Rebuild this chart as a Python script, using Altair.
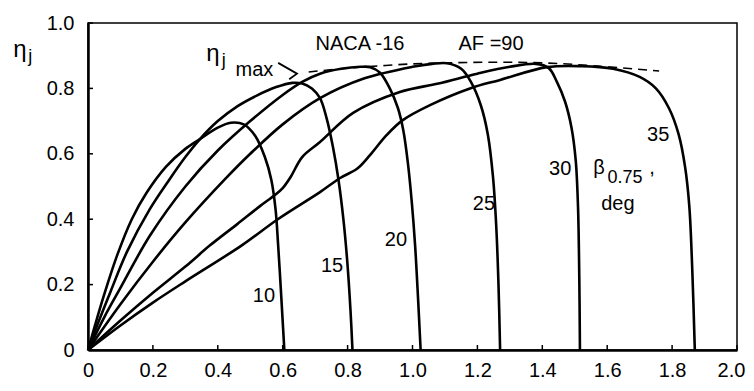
import altair as alt
import pandas as pd

# ---- data (J = advance ratio, eta = efficiency) ----
J10 = [0, 0.02, 0.05, 0.09, 0.135, 0.18, 0.24, 0.30, 0.345, 0.40, 0.44, 0.48, 0.515, 0.545, 0.565, 0.578, 0.586, 0.594, 0.601, 0.605]
E10 = [0, 0.07, 0.17, 0.29, 0.40, 0.48, 0.56, 0.615, 0.645, 0.68, 0.695, 0.69, 0.655, 0.59, 0.52, 0.43, 0.32, 0.19, 0.07, 0]

J15 = [0, 0.03, 0.07, 0.12, 0.19, 0.25, 0.30, 0.345, 0.40, 0.46, 0.52, 0.58, 0.63, 0.66, 0.69, 0.715, 0.735, 0.755, 0.772, 0.787, 0.799, 0.809, 0.815]
E15 = [0, 0.08, 0.18, 0.30, 0.43, 0.52, 0.59, 0.645, 0.70, 0.745, 0.778, 0.804, 0.817, 0.815, 0.80, 0.77, 0.71, 0.62, 0.52, 0.40, 0.27, 0.12, 0]

J20 = [0, 0.05, 0.10, 0.191, 0.30, 0.40, 0.50, 0.60, 0.66, 0.715, 0.78, 0.84, 0.87, 0.90, 0.93, 0.955, 0.972, 0.986, 0.998, 1.008, 1.017, 1.025]
E20 = [0, 0.10, 0.19, 0.35, 0.50, 0.61, 0.70, 0.78, 0.82, 0.845, 0.86, 0.866, 0.865, 0.848, 0.80, 0.74, 0.67, 0.57, 0.45, 0.32, 0.16, 0]

J25 = [0, 0.1, 0.2, 0.3, 0.42, 0.5, 0.6, 0.715, 0.85, 1.0, 1.06, 1.106, 1.15, 1.18, 1.21, 1.232, 1.248, 1.258, 1.265, 1.27]
E25 = [0, 0.14, 0.27, 0.39, 0.52, 0.60, 0.69, 0.77, 0.83, 0.866, 0.875, 0.877, 0.86, 0.82, 0.75, 0.66, 0.53, 0.38, 0.2, 0]

J30 = [0, 0.1, 0.2, 0.3, 0.376, 0.46, 0.53, 0.576, 0.60, 0.625, 0.66, 0.715, 0.817, 0.961, 1.08, 1.2, 1.3, 1.38, 1.42, 1.445, 1.47, 1.49, 1.503, 1.51, 1.514, 1.516]
E30 = [0, 0.09, 0.175, 0.255, 0.32, 0.385, 0.44, 0.474, 0.495, 0.53, 0.59, 0.636, 0.725, 0.789, 0.815, 0.845, 0.866, 0.875, 0.862, 0.82, 0.76, 0.68, 0.58, 0.44, 0.22, 0]

J35 = [0, 0.1, 0.2, 0.3, 0.474, 0.585, 0.715, 0.777, 0.83, 0.869, 0.92, 0.97, 1.054, 1.177, 1.27, 1.414, 1.52, 1.618, 1.70, 1.75, 1.79, 1.82, 1.84, 1.853, 1.862, 1.87]
E35 = [0, 0.075, 0.145, 0.21, 0.32, 0.40, 0.483, 0.526, 0.555, 0.596, 0.657, 0.703, 0.749, 0.80, 0.826, 0.865, 0.868, 0.86, 0.835, 0.80, 0.74, 0.66, 0.56, 0.44, 0.25, 0]

ENV_J = [0.68, 0.8, 0.9, 1.05, 1.27, 1.45, 1.6, 1.76]
ENV_E = [0.85, 0.862, 0.869, 0.877, 0.88, 0.876, 0.866, 0.853]

ARROW_J = [0.586, 0.644, 0.62]
ARROW_E = [0.878, 0.845, 0.828]

X_TICKS = [0, 0.2, 0.4, 0.6, 0.8, 1.0, 1.2, 1.4, 1.6, 1.8, 2.0]
Y_TICKS = [0, 0.2, 0.4, 0.6, 0.8, 1.0]

BETA_LABELS = ["10", "15", "20", "25", "30", "35"]
BETA_LABEL_J = [0.542, 0.752, 0.949, 1.22, 1.455, 1.757]
BETA_LABEL_E = [0.165, 0.257, 0.336, 0.447, 0.553, 0.657]

TEXT = ["NACA -16", "AF =90", "β", "deg", "max"]
TEXT_J = [0.838, 1.242, 1.575, 1.633, 0.513]
TEXT_E = [0.936, 0.936, 0.557, 0.446, 0.856]

ETA_TEXT = ["η", "η"]
ETA_J = [0.385, -0.21]
ETA_E = [0.905, 0.918]

SUB_TEXT = ["0.75", "j", "j"]
SUB_TEXT_J = [1.655, 0.418, -0.178]
SUB_TEXT_E = [0.527, 0.884, 0.897]

COMMA_J = [1.738]
COMMA_E = [0.538]

# ---- tables ----
rows = []
for b, js, es in [("10", J10, E10), ("15", J15, E15), ("20", J20, E20),
                  ("25", J25, E25), ("30", J30, E30), ("35", J35, E35)]:
    for i, (j, e) in enumerate(zip(js, es)):
        rows.append({"beta": b, "i": i, "J": j, "eta": e})
curves_df = pd.DataFrame(rows)
env_df = pd.DataFrame({"J": ENV_J, "eta": ENV_E, "i": range(len(ENV_J))})
arrow_df = pd.DataFrame({"J": ARROW_J, "eta": ARROW_E, "i": range(len(ARROW_J))})
xt_df = pd.DataFrame({"t": X_TICKS})
yt_df = pd.DataFrame({"t": Y_TICKS})
lab_df = pd.DataFrame({"J": BETA_LABEL_J, "eta": BETA_LABEL_E, "text": BETA_LABELS})
txt_df = pd.DataFrame({"J": TEXT_J, "eta": TEXT_E, "text": TEXT})
eta_df = pd.DataFrame({"J": ETA_J, "eta": ETA_E, "text": ETA_TEXT})
sub_df = pd.DataFrame({"J": SUB_TEXT_J, "eta": SUB_TEXT_E, "text": SUB_TEXT})
comma_df = pd.DataFrame({"J": COMMA_J, "eta": COMMA_E, "text": [","]})

FONT = "Liberation Sans"
label_expr = "datum.value == 0 ? '0' : format(datum.value, '.1f')"

xs = alt.Scale(domain=[0, 2], nice=False, zero=False)
ys = alt.Scale(domain=[0, 1], nice=False, zero=False)

X = alt.X("J:Q", scale=xs, axis=alt.Axis(
    values=X_TICKS, labelExpr=label_expr, title=None,
    labelPadding=10, labelFlush=False, labelOverlap=False,
    labelOffset={"condition": {"test": "datum.value >= 1.99", "value": -6}, "value": 0}))
Y = alt.Y("eta:Q", scale=ys, axis=alt.Axis(values=Y_TICKS, labelExpr=label_expr, title=None,
                                           labelPadding=14, labelFlush=False, labelOverlap=False))

curves = alt.Chart(curves_df).mark_line(color="black", strokeWidth=2.6, interpolate="catmull-rom").encode(
    x=X, y=Y, detail="beta:N", order="i:Q")

env = alt.Chart(env_df).mark_line(color="black", strokeWidth=1.6, strokeDash=[9, 6], interpolate="monotone").encode(
    x="J:Q", y="eta:Q", order="i:Q")

arrow = alt.Chart(arrow_df).mark_line(color="black", strokeWidth=1.8).encode(
    x="J:Q", y="eta:Q", order="i:Q")

xticks = alt.Chart(xt_df).mark_rule(color="black", strokeWidth=1.5).encode(
    x=alt.X("t:Q", scale=xs), y=alt.value(327), y2=alt.value(322))
yticks = alt.Chart(yt_df).mark_rule(color="black", strokeWidth=1.5).encode(
    y=alt.Y("t:Q", scale=ys), x=alt.value(0), x2=alt.value(5))

labels = alt.Chart(lab_df).mark_text(font=FONT, fontSize=20, color="black").encode(
    x="J:Q", y="eta:Q", text="text:N")
txt = alt.Chart(txt_df).mark_text(font=FONT, fontSize=20, color="black").encode(
    x="J:Q", y="eta:Q", text="text:N")
eta = alt.Chart(eta_df).mark_text(font=FONT, fontSize=24, color="black").encode(
    x="J:Q", y="eta:Q", text="text:N")
sub = alt.Chart(sub_df).mark_text(font=FONT, fontSize=18, color="black").encode(
    x="J:Q", y="eta:Q", text="text:N")
comma = alt.Chart(comma_df).mark_text(font=FONT, fontSize=20, color="black", baseline="alphabetic").encode(
    x="J:Q", y="eta:Q", text="text:N")

chart = alt.layer(curves, env, arrow, xticks, yticks, labels, txt, eta, sub, comma).properties(
    width=649, height=327,
    padding={"left": 80, "top": 15, "right": 9, "bottom": 33},
    autosize=alt.AutoSizeParams(type="none"),
    background="white",
).configure_view(stroke="black", strokeWidth=1.5).configure_axis(
    domainColor="black", domainWidth=2.5, ticks=False, grid=False,
    labelFont=FONT, labelFontSize=20, labelColor="black",
)

chart.save("out.html", embed_options={"renderer": "svg", "actions": False})
